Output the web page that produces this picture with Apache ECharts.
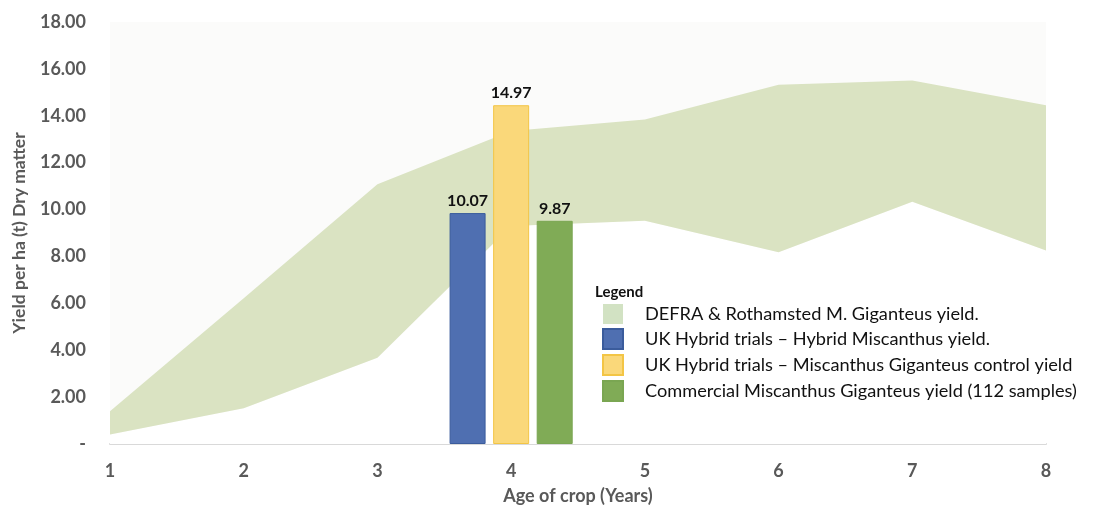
<!DOCTYPE html>
<html>
<head>
<meta charset="utf-8">
<script src="https://cdn.jsdelivr.net/npm/echarts@6/dist/echarts.min.js"></script>
<style>
  html, body { margin: 0; padding: 0; background: #ffffff; }
  #chart { width: 1096px; height: 510px; }
</style>
</head>
<body>
<div id="chart"></div>
<script>
// ---- data ----
const categories = ['1', '2', '3', '4', '5', '6', '7', '8'];
const yTickLabels = ['-', '2.00', '4.00', '6.00', '8.00', '10.00', '12.00', '14.00', '16.00', '18.00'];
const bandUpper = [1.40, 6.22, 11.08, 13.35, 13.84, 15.32, 15.51, 14.45];
const bandLower = [0.40, 1.53, 3.68, 9.30, 9.52, 8.18, 10.33, 8.25];
const hybridYield = [null, null, null, 9.85, null, null, null, null];
const controlYield = [null, null, null, 14.45, null, null, null, null];
const commercialYield = [null, null, null, 9.52, null, null, null, null];
const barLabels = { hybrid: '10.07', control: '14.97', commercial: '9.87' };
const seriesNames = [
  'DEFRA & Rothamsted M. Giganteus yield.',
  'UK Hybrid trials \u2013 Hybrid Miscanthus yield.',
  'UK Hybrid trials \u2013 Miscanthus Giganteus control yield',
  'Commercial Miscanthus Giganteus yield (112 samples)'
];

const bandDiff = bandUpper.map((u, i) => +(u - bandLower[i]).toFixed(2));
const FONT = 'Lato';
const axisGrey = '#595959';

function barLabel(text) {
  return {
    show: true, position: 'top', distance: 4,
    formatter: () => text,
    fontFamily: FONT, fontWeight: 'bold', fontSize: 16, color: '#111111'
  };
}

const chart = echarts.init(document.getElementById('chart'));
chart.setOption({
  animation: false,
  backgroundColor: '#ffffff',
  grid: {
    left: 110, right: 50, top: 22, bottom: 64,
    show: true, backgroundColor: '#fbfbfa', borderWidth: 0
  },
  title: {
    text: 'Legend', left: 590, top: 280,
    textStyle: { fontFamily: FONT, fontWeight: 'bold', fontSize: 15, color: '#111111' }
  },
  legend: {
    orient: 'vertical', left: 597, top: 299,
    icon: 'rect', itemWidth: 20, itemHeight: 20, itemGap: 4,
    selectedMode: false,
    textStyle: { fontFamily: FONT, fontSize: 18.2, lineHeight: 20, color: '#111111', padding: [0, 0, 0, 17] },
    data: [
      { name: seriesNames[0], itemStyle: { color: '#d2e2c3', borderWidth: 0 } },
      { name: seriesNames[1] },
      { name: seriesNames[2] },
      { name: seriesNames[3] }
    ]
  },
  xAxis: {
    type: 'category', data: categories, boundaryGap: false,
    name: 'Age of crop (Years)', nameLocation: 'middle', nameGap: 43,
    nameTextStyle: { fontFamily: FONT, fontWeight: 'bold', fontSize: 18, color: axisGrey },
    axisLine: { show: true, lineStyle: { color: '#d9d9d9', width: 2 } },
    axisTick: { show: false },
    axisLabel: { margin: 18, fontFamily: FONT, fontWeight: 'bold', fontSize: 18, color: axisGrey },
    splitLine: { show: false }
  },
  yAxis: {
    type: 'value', min: 0, max: 18, interval: 2,
    name: 'Yield per ha (t) Dry matter', nameLocation: 'middle', nameGap: 82,
    nameTextStyle: { fontFamily: FONT, fontWeight: 'bold', fontSize: 17.5, color: axisGrey },
    axisLine: { show: false }, axisTick: { show: false }, splitLine: { show: false },
    axisLabel: {
      margin: 24, fontFamily: FONT, fontWeight: 'bold', fontSize: 18, color: axisGrey,
      formatter: (v) => yTickLabels[Math.round(v / 2)]
    }
  },
  series: [
    {
      name: 'lowerBase', type: 'line', stack: 'band', data: bandLower,
      symbol: 'none', lineStyle: { width: 0 }, areaStyle: { color: '#ffffff', opacity: 1 },
      itemStyle: { color: '#ffffff' }, silent: true, z: 1
    },
    {
      name: seriesNames[0], type: 'line', stack: 'band', data: bandDiff,
      symbol: 'none', lineStyle: { width: 0 }, areaStyle: { color: '#dae3c2', opacity: 1 },
      itemStyle: { color: '#d2e2c3' }, z: 1
    },
    {
      name: seriesNames[1], type: 'bar', data: hybridYield, barWidth: 36, barGap: '21%',
      itemStyle: { color: '#4f6fb1', borderColor: '#3b5c9c', borderWidth: 1 },
      label: barLabel(barLabels.hybrid), z: 3
    },
    {
      name: seriesNames[2], type: 'bar', data: controlYield, barWidth: 36, barGap: '21%',
      itemStyle: { color: '#fad87a', borderColor: '#f3c545', borderWidth: 1 },
      label: barLabel(barLabels.control), z: 3
    },
    {
      name: seriesNames[3], type: 'bar', data: commercialYield, barWidth: 36, barGap: '21%',
      itemStyle: { color: '#80ab56', borderColor: '#7aa652', borderWidth: 1 },
      label: barLabel(barLabels.commercial), z: 3
    }
  ]
});
</script>
</body>
</html>
